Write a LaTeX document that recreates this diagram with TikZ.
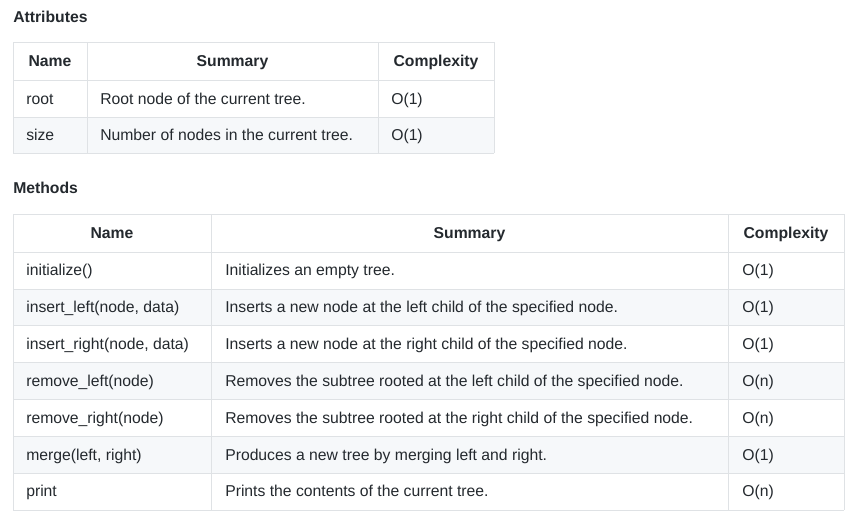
\documentclass[tikz,border=0pt]{standalone}
\usepackage{fontspec}
\setmainfont{Liberation Sans}
\definecolor{bd}{HTML}{DFE2E5}
\definecolor{stripe}{HTML}{F6F8FA}
\definecolor{txt}{HTML}{24292E}
\begin{document}
\begin{tikzpicture}[x=0.75pt,y=-0.75pt,
  cell/.style={anchor=base west,text=txt,font=\fontsize{11.8}{14}\selectfont,inner sep=0},
  head/.style={anchor=base,text=txt,font=\fontsize{11.8}{14}\selectfont\bfseries,inner sep=0},
  title/.style={anchor=base west,text=txt,font=\fontsize{11.8}{14}\selectfont\bfseries,inner sep=0},
  grid/.style={draw=bd,line width=0.75pt}]
\useasboundingbox (0,0) rectangle (856,522);
\fill[white] (0,0) rectangle (856,522);
\node[title] (t1) at (13,22) {Attributes};
\node[title] (t2) at (13,193) {Methods};
% table 1
\fill[stripe] (13,117) rectangle (494,153);
\foreach \y in {42,80,117,153} \draw[grid] (13,\y) -- (494,\y);
\foreach \x in {13,87,378,494} \draw[grid] (\x,42) -- (\x,153);
\node[head] (a0) at (50,66.5) {Name};
\node[head] (a1) at (232.5,66.5) {Summary};
\node[head] (a2) at (436,66.5) {Complexity};
\node[cell] (a3) at (26,104) {root};
\node[cell] (a4) at (100,104) {Root node of the current tree.};
\node[cell] (a5) at (391,104) {O(1)};
\node[cell] (a6) at (26,140.5) {size};
\node[cell] (a7) at (100,140.5) {Number of nodes in the current tree.};
\node[cell] (a8) at (391,140.5) {O(1)};
% table 2
\foreach \y in {289,362,436} \fill[stripe] (13,\y) rectangle (844,\y+37);
\foreach \y in {214,252,289,325,362,399,436,473,510} \draw[grid] (13,\y) -- (844,\y);
\foreach \x in {13,211,728,844} \draw[grid] (\x,214) -- (\x,510);
\node[head] (b0) at (112,238.5) {Name};
\node[head] (b1) at (469.5,238.5) {Summary};
\node[head] (b2) at (786,238.5) {Complexity};
\foreach \n/\s/\c [count=\i] in {
  initialize()/Initializes an empty tree./O(1),
  insert\_left(node{,} data)/Inserts a new node at the left child of the specified node./O(1),
  insert\_right(node{,} data)/Inserts a new node at the right child of the specified node./O(1),
  remove\_left(node)/Removes the subtree rooted at the left child of the specified node./O(n),
  remove\_right(node)/Removes the subtree rooted at the right child of the specified node./O(n),
  merge(left{,} right)/Produces a new tree by merging left and right./O(1),
  print/Prints the contents of the current tree./O(n)} {
  \pgfmathsetmacro\yy{252+36.9*(\i-1)+23.5}
  \node[cell] (n\i) at (26,\yy) {\n};
  \node[cell] (s\i) at (225,\yy) {\s};
  \node[cell] (c\i) at (742,\yy) {\c};
}
\end{tikzpicture}
\end{document}
